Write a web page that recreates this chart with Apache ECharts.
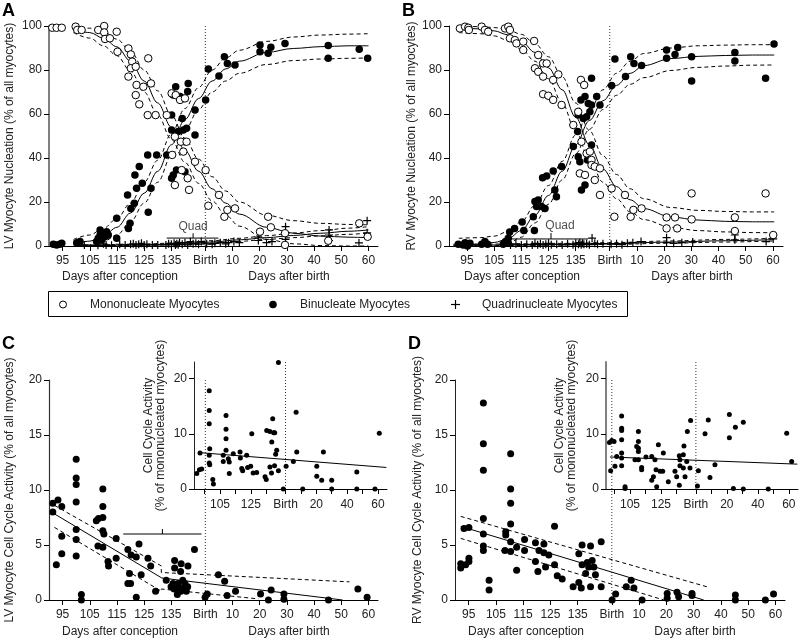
<!DOCTYPE html>
<html>
<head>
<meta charset="utf-8">
<script src="https://cdn.jsdelivr.net/npm/echarts@6/dist/echarts.min.js"></script>
<style>html,body{margin:0;background:#fff}#chart{width:800px;height:640px}</style>
</head>
<body>
<div id="chart"></div>
<script>
// x is one continuous age scale: days after conception, birth at 147.5, then 147.5 + days after birth
const BIRTH = 147.5;
const xTicks = [95, 105, 115, 125, 135, 147.5, 157.5, 167.5, 177.5, 187.5, 197.5, 207.5];
const xTickLabels = ['95', '105', '115', '125', '135', 'Birth', '10', '20', '30', '40', '50', '60'];
const insetLabelVals = [105, 125, 147.5, 167.5, 187.5, 207.5];
const insetLabels = ['105', '125', 'Birth', '20', '40', '60'];

// ---- Panel A (LV nucleation) ----
const aMono = [[91.2,99.2],[92.8,99.2],[94.7,99.2],[99.8,99.7],[100.4,98.2],[102,98.2],[108.1,98.2],[110.3,100],[110.3,97.1],[110.6,94.1],[112.4,94.4],[114.9,97.4],[115.2,88.3],[119.2,89.8],[120.1,87.1],[120.6,83.8],[120.1,80.8],[121.9,81.5],[119.2,77],[122.2,73.2],[124.7,72.4],[127.5,73.9],[126.5,85.3],[121.9,68.6],[123.2,64.4],[126.3,59.5],[129.2,59.5],[133.3,59.5],[135.1,69.4],[136.6,68.6],[138.2,66.4],[140,67.1],[136.3,49.7],[135.3,41.4],[138.5,47.4],[139.4,42.9],[140.6,47.4],[136.3,27.7],[138.8,34.5],[141,30.8],[141.5,25.5],[143.7,38.3],[147.6,34.5],[148.6,18.3],[152.5,23.2],[154.5,13.3],[155.6,16.4],[158.4,17.1],[167.6,6.5],[170.6,13.3],[171.6,8.5],[176.8,5.8],[176.8,0.5],[192.7,2.4],[204.1,10.3],[207.2,4.2]];
const aBinu = [[91.6,0.8],[92.8,0.5],[94,0.8],[94.7,1.2],[100.2,1.5],[101.4,2],[107.5,2],[108.1,3.5],[109.4,2.7],[108.8,5],[108.8,7.3],[110.6,4.2],[111.2,6.5],[111.8,5],[114.9,3.5],[114.9,12.6],[119.2,8],[119.8,10.3],[118.9,23.2],[120.1,17.1],[121.4,19.4],[122.2,26.2],[121.6,32.3],[123.2,36.1],[124.3,28.5],[126.5,15.3],[127.5,26.2],[126.3,41.4],[129.6,41.4],[133.3,41.4],[135.1,59.5],[135.1,52.7],[136.6,72.4],[135.7,68.6],[138.2,67.9],[139.4,67.1],[141.2,73.9],[141,70.2],[137.5,52],[139,58],[139.4,52.7],[140.6,53.5],[140,47.4],[143.7,50.5],[143.7,61.8],[135.1,30.8],[135.7,32.3],[136.9,34.5],[140,33.8],[147.6,66.4],[148.6,80.5],[152.5,77.3],[154.5,86],[155.6,83],[158.4,82.3],[167.6,91.4],[167.6,88.3],[170.6,87.6],[171.6,90.3],[176.8,92.1],[192.7,91.1],[192.7,85.3],[204.1,89.4],[207.2,85.3]];
const aQuad = [[103,0.5],[108,0.3],[110,1],[111,0.5],[113,0.3],[116,0.8],[118,0.5],[120,0.8],[121,1],[122,0.5],[123,0.8],[124,1.2],[125,0.5],[126,0.8],[128,0.5],[130,0.5],[133,0.5],[134,1],[135,0.8],[136,1.2],[136.5,0.5],[137,1],[137.5,0.6],[138,1.5],[139,0.8],[140,1.5],[141,0.5],[142,2],[143,1],[144,1.3],[145,0.8],[146,2],[148,1],[150,0.8],[151,1.2],[153,1.5],[155,1],[156,1.5],[158,2],[160,1.5],[167,4],[167,2.5],[170,1.5],[172,2],[177,8.8],[177,3],[193,7.3],[193,5],[193,2.5],[204,1.4],[207,11.5],[207,6]];
const aFitX = [99, 105, 110, 115, 120, 125, 130, 135, 140, 145, 150, 155, 160, 170, 180, 190, 200, 207.5];
const aBinuFit = [1, 2.2, 4.5, 8.5, 15, 24, 34, 46, 57.5, 67, 75, 80.5, 84, 88, 89.8, 90.6, 91, 91];
const aBinuHi = [3, 5, 8, 12.5, 19.5, 29, 39, 51, 62.5, 72, 80, 85.5, 89, 93, 95, 95.9, 96.3, 96.5];
const aBinuLo = [0, 0.5, 2, 5, 11, 19.5, 29, 41, 52.5, 62, 70, 75, 78.5, 82.5, 84.3, 85, 85.3, 85.5];
const aMonoFit = [98.5, 97, 94.5, 90.5, 84, 75, 65, 54, 43.5, 34, 26, 19.5, 14.5, 8.5, 5.8, 4.5, 4, 3.8];
const aMonoHi = [99.8, 99, 97.5, 94, 88.5, 80, 70.5, 59.5, 49, 39.5, 31.5, 25, 20, 14, 11.5, 10.3, 9.8, 9.6];
const aMonoLo = [97, 94.5, 91, 86.5, 79.5, 70, 59.5, 48.5, 38, 28.5, 20.5, 14, 9, 3, 1, 0.2, 0, 0];
const aQuadFitX = [100, 120, 140, 150, 160, 170, 180, 190, 200, 207.5];
const aQuadFit = [0.1, 0.4, 1, 1.8, 2.8, 3.8, 4.8, 5.8, 6.7, 7.3];
const aQuadHi = [0.3, 0.7, 1.5, 2.4, 3.5, 4.7, 5.9, 7, 8.1, 8.8];
const aQuadLo = [0, 0.2, 0.6, 1.2, 2.1, 3, 3.8, 4.6, 5.3, 5.9];
const aQuadCI = [133.3, 143, 152.3, 3.6, 5.8];   // low, mid, high, y, tick top

// ---- Panel B (RV nucleation) ----
const bMono = [[92.4,98.9],[94.3,99.7],[95.5,99.2],[95.7,98.2],[100.4,99.7],[101.6,98.2],[102.8,97.4],[109,98.9],[110.2,99.7],[110.8,98.2],[110.8,94.4],[112.6,93.6],[113.2,92.1],[115.7,92.9],[115.7,89.1],[119.7,93.2],[121.2,86.8],[120,80.8],[121.2,79.2],[123,83],[123,77],[124.3,83],[126.7,75.5],[128.6,78],[123,69],[124.9,68.3],[126.7,66.4],[129.8,64.1],[134.1,55],[135.9,61],[136.9,75.5],[138.1,73.2],[137.1,47.4],[136.5,33],[138.4,32.3],[139,42.1],[140.2,42.9],[140.8,39.1],[140.8,36.8],[142,36.1],[143.9,35.3],[142,30],[143.9,23.2],[148.2,26.2],[149.2,13.3],[153.1,23.2],[155.2,13.3],[156.2,16.4],[159.2,17.1],[168.4,13],[171.5,13],[168.4,8],[172.3,8],[177.6,23.9],[177.6,12.1],[193.5,13],[193.5,6.8],[204.8,23.9],[207.6,5]];
const bBinu = [[91.8,0.8],[93.6,0.5],[94.3,1.5],[95.2,0],[96.1,1.2],[100.4,0.8],[101.6,2],[102.6,0.8],[108.3,0.8],[109.2,2],[110.2,1.2],[110.2,3.5],[110.7,6.4],[112.5,7.9],[115.3,10.9],[115.9,7.1],[119.8,7.1],[119.4,13.3],[120,20.2],[121.2,20.9],[122.4,17.9],[123.7,17.1],[120.6,17.9],[122.8,31],[124.3,31.8],[126.7,34.1],[127.3,25.5],[127.9,22.4],[129.8,36.1],[134.1,45.2],[135.9,59.5],[136.9,66.4],[138.4,67.9],[139.6,64.8],[140.8,64.1],[142.7,67.9],[143.9,64.1],[140.8,76.2],[135.7,52],[135.9,40.6],[136.5,38.3],[139.3,39.1],[140.8,45.9],[138.4,27.7],[137.1,25.5],[137.8,58],[139,58.8],[140.2,61],[148.2,72.9],[149.4,85],[153.3,77],[155.2,86],[156.4,83],[159.2,82],[168.4,89.1],[168.4,85.3],[171.5,87.1],[172.5,90.2],[177.6,86],[177.6,75],[193.5,88],[193.5,84.1],[204.8,76.2],[207.9,91.8]];
const bQuad = [[111,0.5],[113,1],[115,0.5],[117,0.8],[119,0.5],[120,1.2],[121,0.6],[122,1],[123,0.5],[124,0.8],[125,1.2],[126,0.6],[128,0.8],[130,0.5],[132,1],[134,0.6],[135,1.2],[136,0.8],[136.5,1.5],[137,0.6],[137.5,1.2],[138,0.8],[139,1],[140,0.6],[141,3.6],[142,1.2],[143,0.8],[145,1],[148,0.8],[150,1],[152,0.6],[154,1.2],[156,1.5],[159,2],[168.4,3.8],[168.4,1.5],[171,1.2],[174,1.5],[178,1.8],[193.5,5],[193.5,2.8],[205,2],[207.6,3.2]];
const bFitX = [92, 100, 105, 110, 115, 120, 125, 130, 135, 140, 145, 150, 155, 160, 170, 180, 190, 200, 208];
const bBinuFit = [0.3, 0.8, 1.6, 3.2, 7, 14, 23, 34, 46, 57, 66, 73, 78.5, 82, 85.2, 86.2, 86.6, 86.8, 86.8];
const bBinuHi = [3.5, 3.8, 4.5, 6.5, 11, 18.5, 27.5, 38.5, 50.5, 61.5, 71, 78.5, 84, 87.5, 90, 91, 91.3, 91.5, 91.5];
const bBinuLo = [0, 0, 0, 1, 4, 10.5, 19, 30, 42, 53, 62, 68.5, 73.5, 76.5, 79.8, 81.2, 81.8, 82.2, 82.3];
const bMonoFit = [99.2, 98.7, 97.8, 96, 93, 88, 81, 71, 58.5, 46, 35, 27, 21, 17, 13.2, 11.8, 11.2, 11, 11];
const bMonoHi = [99.9, 99.7, 99.3, 98.3, 96.2, 92, 86, 77, 65, 52.5, 41, 32.5, 26, 21.5, 17.5, 16.2, 15.7, 15.5, 15.5];
const bMonoLo = [97, 96.5, 95.5, 93.5, 89.5, 84, 76, 65, 52, 39.5, 29, 21.5, 15.5, 12, 8.5, 7, 6.4, 6.1, 6];
const bQuadFitX = [90, 110, 130, 147, 170, 190, 208];
const bQuadFit = [0.3, 0.5, 0.8, 1.1, 1.8, 2.4, 2.9];
const bQuadHi = [0.8, 0.9, 1.2, 1.5, 2.3, 3.0, 3.5];
const bQuadLo = [0, 0.2, 0.4, 0.7, 1.3, 1.8, 2.3];
const bQuadCI = [110.8, 125.9, 139.5, 3.2, 5.9];

// ---- Panel C (LV cell cycle) ----
const cMain = [[91.4,8.8],[91.4,8],[93.3,9.1],[92.7,3.2],[94.7,8.5],[94.7,5.8],[94.7,4.2],[100,12.8],[100,11.1],[100,10.5],[100,8.9],[100,6.4],[100,5.5],[100,4],[101.9,0.5],[101.9,0],[107.4,7.2],[108.2,7.4],[108,4.9],[109.8,10.1],[109.8,8.5],[109.8,7.5],[109.8,6.3],[110.2,6],[109.8,4.8],[111.7,3.5],[111.9,3.1],[114.7,3.8],[114.7,5.6],[119,4.6],[120.2,4.1],[123.1,5.1],[122.1,3.9],[119.6,2.4],[119,1.5],[120,1.5],[123.9,2.3],[122.1,0.25],[126.4,3.8],[127.4,3.1],[129.2,0.8],[133.1,1.8],[136.2,3.6],[136.2,2.9],[135.6,1.5],[136.8,1.2],[137.2,0.5],[138.4,2.6],[138.6,3.3],[141.1,3.1],[139.2,1.8],[139.8,1.2],[143.5,4.6],[134.9,1.2],[136,1],[137.5,1.5],[138,1],[140,1.5],[141,1.2],[140.5,0.8],[138.5,0.8],[148.2,0.55],[147.4,0.25],[152.3,2.3],[154.6,1.7],[155.5,0.4],[158.6,0.8],[167.8,0.55],[171.7,0.9],[170.7,0],[176.4,0.55],[176.4,0.06],[192.8,0],[203.6,1],[207,0.25]];
const cFit = [[91.5,7.9],[131.5,2],[198,0]];
const cHi = [[92,8.6],[131.3,3.1],[131.3,2.5],[200.5,1.65]];
const cLo = [[92,6.6],[131.3,0.8],[131.3,1],[167,0.1]];
const cBreakCI = [117.3, 131.7, 146.1, 6.0, 6.45];
const cInset = [[89.9,2.8],[91.6,3.5],[93.1,3.6],[92,6.5],[98,17.8],[98,14.2],[98,11.8],[98.3,7.3],[98,6.1],[98,4.7],[98.3,4.4],[100.3,1.7],[100.7,0.9],[108.9,13.3],[108.9,10.8],[108.9,9.1],[108.9,7],[107.1,6.1],[110.4,5.5],[107.1,5],[111,4.9],[111,2.8],[113.6,6.4],[118,6.7],[118.2,5.6],[119.1,3.7],[119.7,3.3],[122.3,6.1],[122.9,3.9],[124.9,4.1],[125.6,10],[126.5,2.9],[128.8,3],[134.2,2.2],[135,1.7],[135.3,10.6],[137.4,10.4],[138.6,8.5],[139.2,12.7],[137.4,4],[138.4,2.9],[139.8,10.2],[140.5,10.2],[141.8,7],[141.1,6.3],[140.4,4.2],[142.9,22.9],[142.9,3.3],[146.1,0],[147.9,4.1],[152.6,5],[154.8,6.7],[154.4,13.9],[158.7,0],[167.8,4.1],[167.8,2.3],[171,1.6],[172.1,6.7],[177.5,1.6],[177.5,0],[193.8,3.1],[193.8,0],[205.6,0],[208.4,10.1]];
const cInsetFit = [[91,6.6],[213,3.9]];

// ---- Panel D (RV cell cycle) ----
const dMain = [[92.1,3.3],[92.1,2.9],[93.9,3.2],[95.1,3.8],[95.1,3.5],[93.3,6.5],[95.1,6.6],[100.4,17.9],[100.4,14.2],[100.4,11.8],[100.4,7.4],[100.4,6],[100.4,4.9],[100.4,4.5],[102.5,1.8],[102.5,0.9],[108.6,6.2],[108.6,5.9],[108.3,4.5],[110.4,13.3],[110.4,10.1],[110.4,8.8],[110.4,6.9],[110.4,5.3],[110.4,4.4],[112.6,2.7],[112.6,4.8],[115.5,5.5],[115.5,4.5],[119.5,5.2],[120.8,4.5],[119.5,3.5],[120.4,2.6],[122.6,5.1],[122.6,4.3],[123.2,3],[124.4,4.1],[126.5,3.2],[126.5,6.7],[127.5,2.2],[129.3,1.9],[133.3,1.2],[135.4,4.2],[135.4,1.6],[136.6,5],[136.6,3.2],[136.3,1.1],[137.9,2.4],[139.7,4.9],[139.7,1.2],[140.3,3.6],[140.9,3],[141.5,2.3],[143.6,5.3],[143.6,1.2],[138.5,3.4],[139,3],[147.6,0],[148.9,0.55],[152.8,1.2],[154.6,1.8],[155.6,1.1],[158.6,0],[167.8,0.6],[167.8,0.15],[171.4,0.7],[172,0.3],[176.9,0.6],[176.9,0.4],[192.8,0.45],[192.8,0],[203.8,0],[206.8,0.55]];
const dFit = [[92.1,6.7],[181.2,0]];
const dHi = [[92.1,7.6],[182.4,1.2]];
const dLo = [[92.1,5.6],[166.6,0]];
const dInset = [[91.7,8.4],[93.2,8.8],[94.7,8.6],[92.5,3.3],[95.3,4.1],[96.4,5.9],[99.6,13.2],[99.6,11],[99.6,10.6],[99.6,8.9],[99.6,6.5],[99.6,5.6],[99.6,4.2],[101.8,0.4],[101.8,0.1],[109.3,7.7],[110.4,10.4],[110.4,8.6],[110.4,7.4],[110.4,6.8],[110.4,5.3],[108.2,5.3],[112.5,3.5],[112.5,3.9],[115.3,5.8],[119,5.9],[119,1.6],[120.1,2.2],[121.1,5.3],[122.2,0.4],[123.3,8],[121.8,3.5],[124.4,3.2],[126.5,6.5],[126.1,3.2],[129.7,1.3],[134,3.2],[135.1,2.2],[136.8,6],[137.2,5.3],[137.2,4.2],[136.8,0.7],[139.4,6.2],[139.8,7.8],[139.4,3.8],[140.5,2.2],[141.6,5],[142,10.4],[143.7,3.8],[144.1,12.4],[149.1,3.3],[148.5,0.55],[153.4,10],[155.5,12.5],[156.6,2.1],[159.8,4.4],[169.1,13.5],[169.1,9.3],[171.7,0.1],[173,11.2],[178.1,12.1],[178.1,0],[194.2,0],[206.1,10.1],[209.3,5]];
const dInsetFit = [[92,5.8],[213,4.5]];

const FONT = "'Liberation Sans', Arial, sans-serif";
const PLUS = 'path://M4.25,0h1.5v4.25h4.25v1.5h-4.25v4.25h-1.5v-4.25h-4.25v-1.5h4.25z';
const zip = (xs, ys) => xs.map((x, i) => [x, ys[i]]);

const chart = echarts.init(document.getElementById('chart'), null, { renderer: 'canvas' });

const grids = [
  { left: 49, top: 26, width: 329, height: 220 },   // A
  { left: 449, top: 26, width: 334, height: 220 },  // B
  { left: 49, top: 380, width: 329, height: 220 },  // C
  { left: 194, top: 362, width: 193, height: 127 }, // C inset
  { left: 455, top: 380, width: 330, height: 220 }, // D
  { left: 606, top: 362, width: 192, height: 127 }  // D inset
];

function xAx(gi, min, max, inset) {
  const vals = inset ? insetLabelVals : xTicks;
  const labs = inset ? insetLabels : xTickLabels;
  return {
    type: 'value', gridIndex: gi, min, max,
    axisLine: { onZero: false, lineStyle: { color: '#000', width: 1 } },
    axisTick: { customValues: xTicks, length: 5, lineStyle: { color: '#000' } },
    axisLabel: { customValues: vals, formatter: v => labs[vals.indexOf(v)], color: '#222', fontSize: 12, fontFamily: FONT, margin: inset ? 10 : 9 },
    splitLine: { show: false }
  };
}
function yAx(gi, max, step, name, gap, axisColor, axisWidth, inset) {
  const ax = {
    type: 'value', gridIndex: gi, min: 0, max,
    name, nameLocation: 'middle', nameRotate: 90, nameGap: gap,
    nameTextStyle: { color: '#222', fontSize: 12, fontFamily: FONT, lineHeight: 12 },
    axisLine: { show: true, lineStyle: { color: axisColor, width: axisWidth } },
    axisTick: { show: true, length: 5, lineStyle: { color: '#000' } },
    axisLabel: { color: '#222', fontSize: 12, fontFamily: FONT, margin: 7 },
    splitLine: { show: false }
  };
  if (inset) {
    ax.axisLabel.customValues = [0, 10, 20];
    ax.axisTick.customValues = [0, 10, 20];
  } else {
    ax.interval = step;
  }
  return ax;
}

function dots(gi, data, kind, size) {
  const s = { type: 'scatter', xAxisIndex: gi, yAxisIndex: gi, data, symbolSize: size, clip: false, silent: true, z: 5 };
  if (kind === 'open') s.itemStyle = { color: '#fff', borderColor: '#000', borderWidth: 1, opacity: 1 };
  else if (kind === 'plus') { s.symbol = PLUS; s.itemStyle = { color: '#000', opacity: 1 }; }
  else s.itemStyle = { color: '#000', opacity: 1 };
  return s;
}
function fit(gi, data, dash, smooth) {
  return {
    type: 'line', xAxisIndex: gi, yAxisIndex: gi, data, showSymbol: false, symbol: 'none',
    smooth: smooth ? 0.35 : false, smoothMonotone: 'x', silent: true, z: 3,
    lineStyle: { color: '#000', width: 1, type: dash ? [4, 3] : 'solid' }
  };
}
function birthLine(gi, top) {
  return {
    type: 'line', xAxisIndex: gi, yAxisIndex: gi, data: [[BIRTH, 0], [BIRTH, top]], showSymbol: false,
    symbol: 'none', silent: true, z: 2, lineStyle: { color: '#333', width: 1, type: [1, 2] }
  };
}
function ciBar(gi, ci, label) {
  const out = [
    fit(gi, [[ci[0], ci[3]], [ci[2], ci[3]]], false, false),
    fit(gi, [[ci[1], ci[3]], [ci[1], ci[4]]], false, false)
  ];
  if (label) {
    out.push({
      type: 'scatter', xAxisIndex: gi, yAxisIndex: gi, data: [[label[0], ci[4]]], symbolSize: 0, silent: true,
      label: { show: true, position: 'top', distance: 1, formatter: label[1], color: '#222', fontSize: 12, fontFamily: FONT }
    });
  }
  return out;
}

const series = [
  // A
  birthLine(0, 100),
  fit(0, zip(aFitX, aMonoFit), false, true), fit(0, zip(aFitX, aMonoHi), true, true), fit(0, zip(aFitX, aMonoLo), true, true),
  fit(0, zip(aFitX, aBinuFit), false, true), fit(0, zip(aFitX, aBinuHi), true, true), fit(0, zip(aFitX, aBinuLo), true, true),
  fit(0, zip(aQuadFitX, aQuadFit), false, true), fit(0, zip(aQuadFitX, aQuadHi), true, true), fit(0, zip(aQuadFitX, aQuadLo), true, true),
  ...ciBar(0, aQuadCI, [143, 'Quad']),
  dots(0, aQuad, 'plus', 8), dots(0, aBinu, 'fill', 7.5), dots(0, aMono, 'open', 7.5),
  // B
  birthLine(1, 100),
  fit(1, zip(bFitX, bMonoFit), false, true), fit(1, zip(bFitX, bMonoHi), true, true), fit(1, zip(bFitX, bMonoLo), true, true),
  fit(1, zip(bFitX, bBinuFit), false, true), fit(1, zip(bFitX, bBinuHi), true, true), fit(1, zip(bFitX, bBinuLo), true, true),
  fit(1, zip(bQuadFitX, bQuadFit), false, true), fit(1, zip(bQuadFitX, bQuadHi), true, true), fit(1, zip(bQuadFitX, bQuadLo), true, true),
  ...ciBar(1, bQuadCI, [129.2, 'Quad']),
  dots(1, bQuad, 'plus', 8), dots(1, bBinu, 'fill', 7.5), dots(1, bMono, 'open', 7.5),
  // C
  birthLine(2, 20),
  fit(2, cFit, false, false), fit(2, cHi, true, false), fit(2, cLo, true, false),
  ...ciBar(2, cBreakCI, null),
  dots(2, cMain, 'fill', 7),
  birthLine(3, 23),
  fit(3, cInsetFit, false, false),
  dots(3, cInset, 'fill', 5),
  // D
  birthLine(4, 20),
  fit(4, dFit, false, false), fit(4, dHi, true, false), fit(4, dLo, true, false),
  dots(4, dMain, 'fill', 7),
  birthLine(5, 23),
  fit(5, dInsetFit, false, false),
  dots(5, dInset, 'fill', 5)
];

function txt(x, y, text, opt) {
  return { type: 'text', silent: true, style: Object.assign({ x, y, text, fill: '#222', fontSize: 12, fontFamily: FONT, align: 'center', verticalAlign: 'middle' }, opt || {}) };
}
const letter = (x, y, t) => txt(x, y, t, { fontSize: 18, fontWeight: 'bold', fill: '#000', align: 'left', verticalAlign: 'top' });

const graphic = [
  letter(2, 2, 'A'), letter(402, 2, 'B'), letter(2, 335, 'C'), letter(408, 335, 'D'),
  txt(120, 277, 'Days after conception'), txt(289, 277, 'Days after birth'),
  txt(522, 277, 'Days after conception'), txt(692, 277, 'Days after birth'),
  txt(120, 632, 'Days after conception'), txt(289, 632, 'Days after birth'),
  txt(526, 632, 'Days after conception'), txt(695, 632, 'Days after birth'),
  // legend
  { type: 'rect', silent: true, shape: { x: 48.5, y: 291.5, width: 579, height: 25 }, style: { fill: 'none', stroke: '#000', lineWidth: 1 } },
  { type: 'circle', silent: true, shape: { cx: 63, cy: 304.5, r: 3.5 }, style: { fill: '#fff', stroke: '#000', lineWidth: 1 } },
  txt(90, 304.5, 'Mononucleate Myocytes', { align: 'left' }),
  { type: 'circle', silent: true, shape: { cx: 273, cy: 304.5, r: 3.8 }, style: { fill: '#000' } },
  txt(300, 304.5, 'Binucleate Myocytes', { align: 'left' }),
  { type: 'line', silent: true, shape: { x1: 451, y1: 304.5, x2: 460, y2: 304.5 }, style: { stroke: '#000', lineWidth: 1.2 } },
  { type: 'line', silent: true, shape: { x1: 455.5, y1: 300, x2: 455.5, y2: 309 }, style: { stroke: '#000', lineWidth: 1.2 } },
  txt(482, 304.5, 'Quadrinucleate Myocytes', { align: 'left' })
];

const insetName = 'Cell Cycle Activity\n(% of mononucleated myocytes)';
chart.setOption({
  animation: false,
  backgroundColor: '#fff',
  textStyle: { fontFamily: FONT },
  grid: grids,
  xAxis: [
    xAx(0, 90, 211, false), xAx(1, 88.4, 211.2, false), xAx(2, 90, 211, false),
    xAx(3, 88.1, 213.4, true), xAx(4, 90, 211, false), xAx(5, 89.5, 213.4, true)
  ],
  yAxis: [
    yAx(0, 100, 20, 'LV Myocyte Nucleation (% of all myocytes)', 33, '#808080', 2, false),
    yAx(1, 100, 20, 'RV Myocyte Nucleation (% of all myocytes)', 30, '#111', 1, false),
    yAx(2, 20, 5, 'LV Myocyte Cell Cycle Activity (% of all myocytes)', 33, '#333', 1.2, false),
    yAx(3, 23, 10, insetName, 27, '#222', 1, true),
    yAx(4, 20, 5, 'RV Myocyte Cell Cycle Activity (% of all myocytes)', 31, '#222', 1, false),
    yAx(5, 23, 10, insetName, 28, '#808080', 2, true)
  ],
  series,
  graphic
});
</script>
</body>
</html>
